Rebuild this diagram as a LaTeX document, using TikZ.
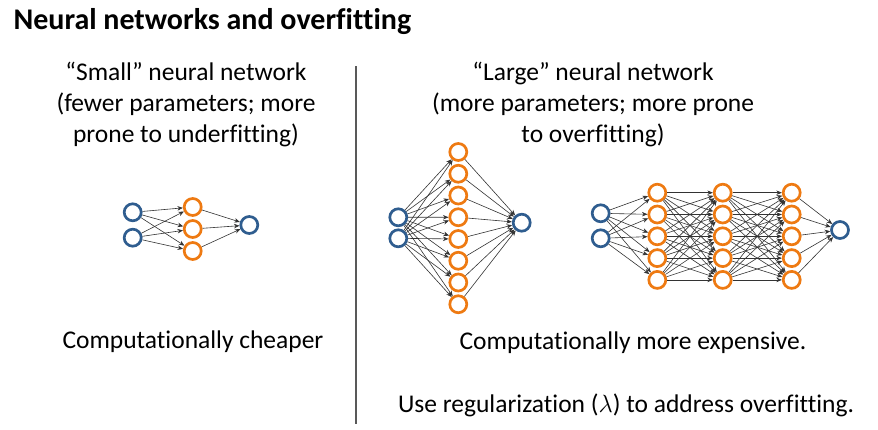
\documentclass[tikz,border=0pt]{standalone}
\usepackage{fontspec}
\setmainfont[Ligatures=NoCommon]{Carlito}
\usetikzlibrary{arrows.meta}

\definecolor{inblue}{HTML}{2F5D8F}
\definecolor{hidorange}{HTML}{EE7A12}

\tikzset{
  unit/.style={circle, draw, line width=2.7pt, minimum size=17pt, inner sep=0pt},
  inunit/.style={unit, draw=inblue},
  hidunit/.style={unit, draw=hidorange},
  wire/.style={-{Stealth[length=5.5pt,width=4.5pt]}, draw=black!80, line width=0.6pt},
  caption/.style={align=center, font=\fontsize{25.5}{31}\selectfont}
}

\begin{document}
\begin{tikzpicture}[x=1pt,y=-1pt]
\useasboundingbox (0,0) rectangle (878,429);
\node[anchor=west, font=\fontsize{30}{34}\selectfont\bfseries] (title) at (10,22) {Neural networks and overfitting};
\draw[draw=black!65, line width=1.2pt] (356,66) coordinate (divtop) -- (356,424) coordinate (divbot);

% small network
\node[caption] (smallcap) at (186,104) {“Small” neural network\\(fewer parameters; more\\prone to underfitting)};
\node[inunit] (s-in1) at (132.7,212.3) {};
\node[inunit] (s-in2) at (132.7,237.7) {};
\node[hidunit] (s-h1) at (192.7,207) {};
\node[hidunit] (s-h2) at (192.7,229) {};
\node[hidunit] (s-h3) at (192.7,251) {};
\node[inunit] (s-out) at (249.3,225) {};
\foreach \i in {1,2} \foreach \j in {1,2,3} \draw[wire] (s-in\i) -- (s-h\j);
\foreach \j in {1,2,3} \draw[wire] (s-h\j) -- (s-out);
\node[caption] (smallcost) at (193,342) {Computationally cheaper};

% large network, one wide layer
\node[caption] (largecap) at (593,104) {“Large” neural network\\(more parameters; more prone\\to overfitting)};
\node[inunit] (a-in1) at (398.3,217.3) {};
\node[inunit] (a-in2) at (398.3,238.3) {};
\foreach \j in {1,...,8}
  \node[hidunit] (a-h\j) at (458.3,{152+21.75*(\j-1)}) {};
\node[inunit] (a-out) at (521.7,222.7) {};
\foreach \i in {1,2} \foreach \j in {1,...,8} \draw[wire] (a-in\i) -- (a-h\j);
\foreach \j in {1,...,8} \draw[wire] (a-h\j) -- (a-out);

% large network, three layers
\node[inunit] (b-in1) at (600.7,213.3) {};
\node[inunit] (b-in2) at (600.7,238.3) {};
\foreach \l/\x in {1/657.3,2/722.7,3/791.7}
  \foreach \j in {1,...,5}
    \node[hidunit] (b-h\l-\j) at (\x,{192.7+21.8*(\j-1)}) {};
\node[inunit] (b-out) at (840,230) {};
\foreach \i in {1,2} \foreach \j in {1,...,5} \draw[wire] (b-in\i) -- (b-h1-\j);
\foreach \l/\m in {1/2,2/3}
  \foreach \i in {1,...,5} \foreach \j in {1,...,5} \draw[wire] (b-h\l-\i) -- (b-h\m-\j);
\foreach \j in {1,...,5} \draw[wire] (b-h3-\j) -- (b-out);

\node[caption] (largecost) at (633,343) {Computationally more expensive.};
\node[caption] (regnote) at (626,405) {Use regularization ($\lambda$) to address overfitting.};
\end{tikzpicture}
\end{document}
